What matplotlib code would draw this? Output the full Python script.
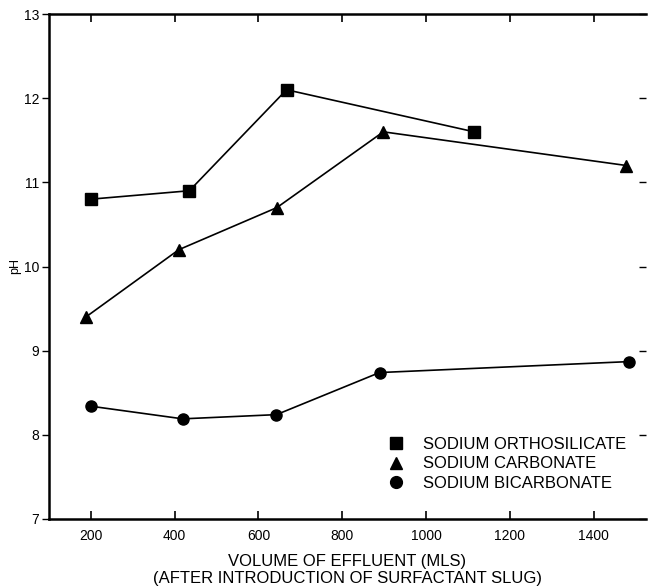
import matplotlib
matplotlib.use("Agg")
import matplotlib.pyplot as plt
from matplotlib.lines import Line2D

plt.rcParams['font.family'] = ['Liberation Sans', 'DejaVu Sans']

# orthosilicate (squares)
ortho_x = [200, 435, 667, 1115]
ortho_ph = [10.8, 10.9, 12.1, 11.6]
# carbonate (triangles)
carb_x = [188, 410, 644, 898, 1478]
carb_ph = [9.4, 10.2, 10.7, 11.6, 11.2]
# bicarbonate (circles)
bicarb_x = [200, 419, 643, 889, 1484]
bicarb_ph = [8.34, 8.19, 8.24, 8.74, 8.87]

labels = ["SODIUM ORTHOSILICATE", "SODIUM CARBONATE", "SODIUM BICARBONATE"]
x_ticks = [200, 400, 600, 800, 1000, 1200, 1400]
y_ticks = [7, 8, 9, 10, 11, 12, 13]

fig = plt.figure(figsize=(6.48, 5.86), dpi=100)
ax = fig.add_axes([49 / 648, 1 - 519 / 586, 597 / 648, 505 / 586])

ax.plot(ortho_x, ortho_ph, 'k-', marker='s', ms=8, lw=1.2)
ax.plot(carb_x, carb_ph, 'k-', marker='^', ms=9, lw=1.2)
ax.plot(bicarb_x, bicarb_ph, 'k-', marker='o', ms=8, lw=1.2)

ax.set_xlim(100, 1525)
ax.set_ylim(7, 13)
ax.set_xticks(x_ticks)
ax.set_yticks(y_ticks)

ax.spines['right'].set_visible(False)
for s in ['left', 'bottom', 'top']:
    ax.spines[s].set_linewidth(1.8)

ax.tick_params(axis='x', direction='in', top=True, length=6, width=1.2,
               labelsize=10, pad=7)
ax.tick_params(axis='y', direction='out', length=5, width=1, labelsize=10, pad=2)
ax.tick_params(axis='y', which='both', right=True)
for t in ax.yaxis.get_ticklines()[1::2]:
    t.set_marker(0)  # right ticks point inward
    t.set_markersize(5)

ax.set_xlabel("VOLUME OF EFFLUENT (MLS)\n(AFTER INTRODUCTION OF SURFACTANT SLUG)",
              fontsize=12, labelpad=8, linespacing=1.15)
ax.set_ylabel("pH", fontsize=9, labelpad=2)

handles = [Line2D([], [], ls='none', marker=m, color='k', ms=ms)
           for m, ms in [('s', 8.5), ('^', 9), ('o', 8.5)]]
ax.legend(handles, labels, loc='upper left', bbox_to_anchor=(0.567, 0.163),
          frameon=False, fontsize=12, handlelength=1, handletextpad=1.15,
          labelspacing=0.28, borderpad=0, borderaxespad=0)

fig.savefig("out.png", dpi=100)
